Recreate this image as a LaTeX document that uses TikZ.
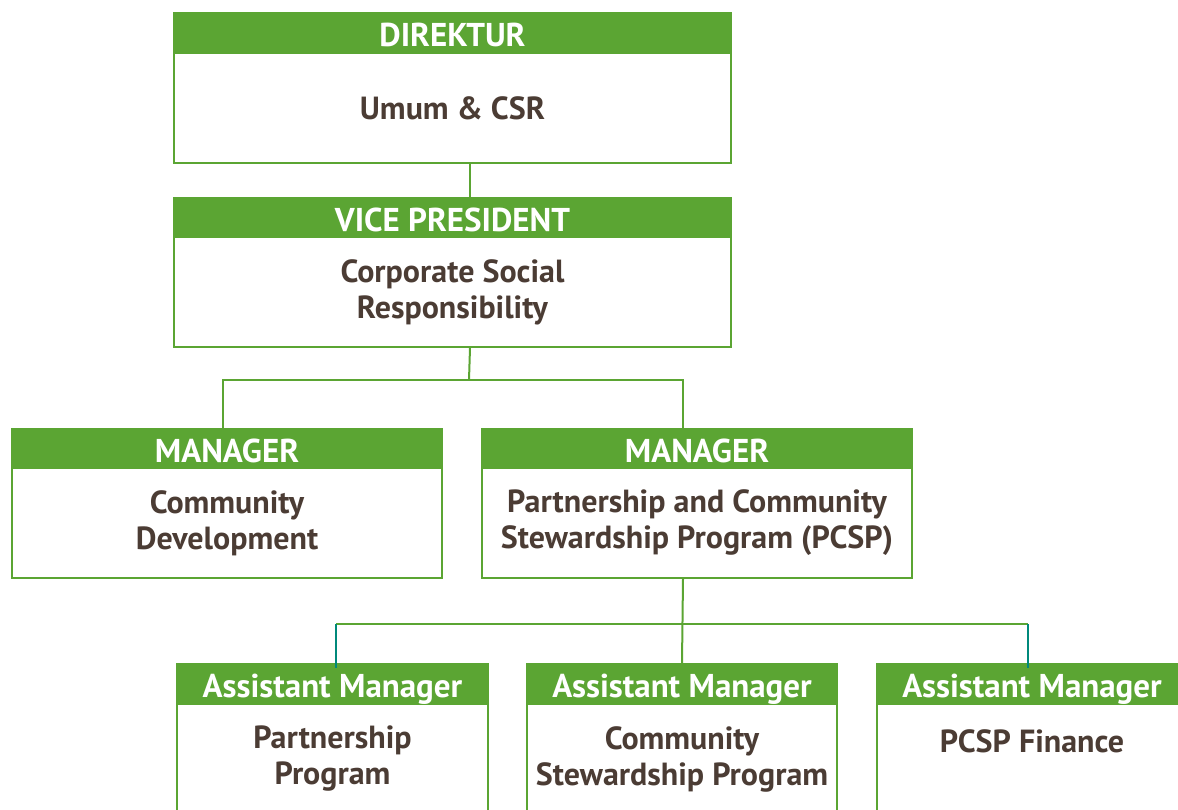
\documentclass[tikz,border=0pt]{standalone}
\usepackage{fontspec}
\setmainfont{PT Sans}
\usetikzlibrary{positioning}

\definecolor{hdgreen}{HTML}{5BA533}
\definecolor{txtbrown}{HTML}{4B3C34}
\definecolor{dropteal}{HTML}{00897B}

\tikzset{
  head/.style={anchor=north west, fill=hdgreen, draw=hdgreen, line width=2pt,
    inner sep=0pt, minimum height=39pt, text height=28pt, text depth=0pt,
    text=white, font=\bfseries\fontsize{33}{36}\selectfont},
  body/.style={anchor=north west, draw=hdgreen, line width=2pt, fill=white,
    inner sep=0pt, minimum height=110pt, align=center, text=txtbrown,
    font=\bfseries\fontsize{32}{36}\selectfont},
  link/.style={draw=hdgreen, line width=2pt},
  drop/.style={draw=dropteal, line width=2.5pt},
}

\begin{document}
\begin{tikzpicture}[x=1pt,y=-1pt]
  \useasboundingbox (0,0) rectangle (1178,809);
  %% top
  \node[body,minimum width=557pt] (dir) at (173,52) {Umum \& CSR};
  \node[head,minimum width=557pt] (dirhd) at (173,12) {DIREKTUR};
  \node[body,minimum width=557pt] (vp) at (173,236) {Corporate Social\\Responsibility};
  \node[head,minimum width=557pt] (vphd) at (173,197) {VICE PRESIDENT};
  %% managers
  \node[body,minimum width=430pt] (cd) at (11,467) {Community\\Development};
  \node[head,minimum width=430pt] (cdhd) at (11,428) {MANAGER};
  \node[body,minimum width=430pt] (pcsp) at (481,467) {Partnership and Community\\Stewardship Program (PCSP)};
  \node[head,minimum width=430pt] (pcsphd) at (481,428) {MANAGER};
  %% assistant managers
  \node[body,minimum width=311pt] (ast1) at (176,703) {Partnership\\Program};
  \node[head,minimum width=311pt] (ast1hd) at (176,663) {Assistant Manager};
  \node[body,minimum width=310pt] (ast2) at (526,703) {Community\\Stewardship Program};
  \node[head,minimum width=310pt] (ast2hd) at (526,663) {Assistant Manager};
  \node[body,minimum width=310pt] (ast3) at (876,703) {PCSP Finance\\\mbox{}};
  \node[head,minimum width=310pt] (ast3hd) at (876,663) {Assistant Manager};
  %% connectors
  \coordinate (bus1) at (469,380);
  \coordinate (bus2) at (682,624);
  \draw[link] ([xshift=17.5pt]dir.south) -- ([xshift=17.5pt]vphd.north);
  \draw[link] ([xshift=17.5pt]vp.south) -- (bus1);
  \draw[link] (bus1) -| ([xshift=-4pt]cdhd.north);
  \draw[link] (bus1) -| ([xshift=-14pt]pcsphd.north);
  \draw[link] ([xshift=-14pt]pcsp.south) -- (ast2hd.north);
  \draw[link] ([xshift=3.5pt]ast1hd.north |- bus2) -- ([xshift=-4pt]ast3hd.north |- bus2);
  \draw[drop] ([xshift=3.5pt]ast1hd.north |- bus2) -- ([xshift=3.5pt,yshift=-5pt]ast1hd.north);
  \draw[drop] ([xshift=-4pt]ast3hd.north |- bus2) -- ([xshift=-4pt,yshift=-5pt]ast3hd.north);
\end{tikzpicture}
\end{document}
